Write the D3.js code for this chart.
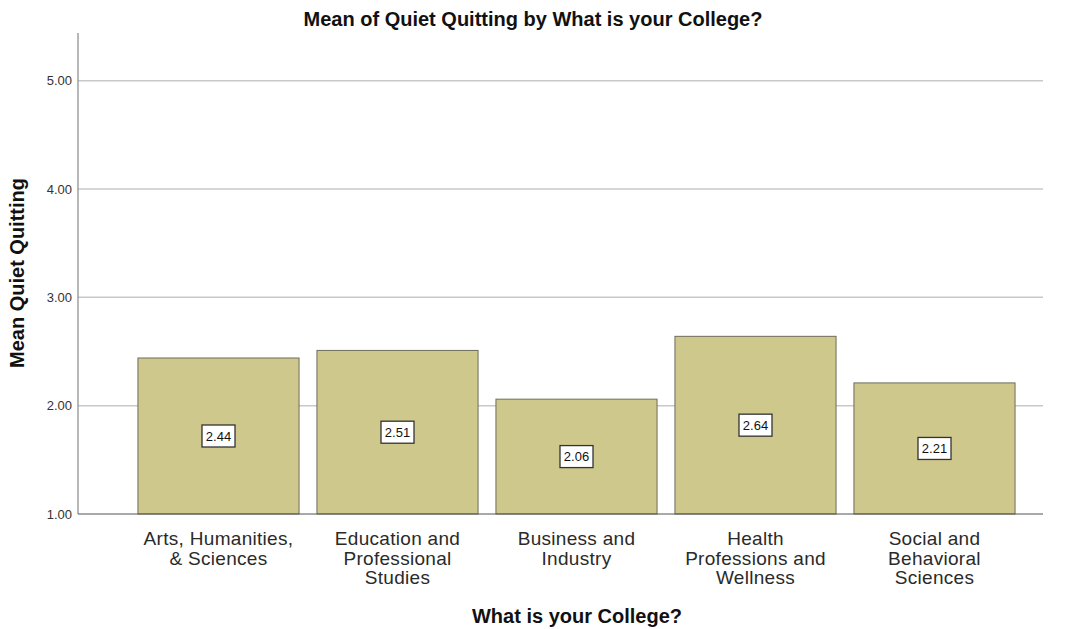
<!DOCTYPE html>
<html>
<head>
<meta charset="utf-8">
<script src="https://cdn.jsdelivr.net/npm/d3@7"></script>
<style>
  html, body { margin: 0; padding: 0; background: #fff; }
  svg { display: block; font-family: Arial, "Liberation Sans", sans-serif; }
</style>
</head>
<body>
<svg id="chart" width="1065" height="629"></svg>
<script>
// Mean Quiet Quitting score per college
const colleges = [
  ["Arts, Humanities,", "& Sciences"],
  ["Education and", "Professional", "Studies"],
  ["Business and", "Industry"],
  ["Health", "Professions and", "Wellness"],
  ["Social and", "Behavioral", "Sciences"]
];
const means = [2.44, 2.51, 2.06, 2.64, 2.21];
const yTicks = [1, 2, 3, 4, 5];

const svg = d3.select("#chart");
const plot = { left: 78, right: 1043, top: 33, bottom: 514 };

const keys = colleges.map(c => c.join(" "));
const x = d3.scaleBand()
  .domain(keys)
  .range([129, 1024])
  .paddingInner(0.1)
  .paddingOuter(0.05);

const y = d3.scaleLinear()
  .domain([1, 5.44])
  .range([plot.bottom, plot.top]);

// grid lines
svg.append("g")
  .selectAll("line")
  .data(yTicks.slice(1))
  .join("line")
  .attr("x1", plot.left).attr("x2", plot.right)
  .attr("y1", d => y(d)).attr("y2", d => y(d))
  .attr("stroke", "#c8c8c8").attr("stroke-width", 1.5);

// y axis
const yAxis = svg.append("g")
  .attr("transform", `translate(${plot.left},0)`)
  .call(d3.axisLeft(y).tickValues(yTicks).tickFormat(d3.format(".2f")).tickSize(0).tickPadding(6));
yAxis.select(".domain").remove();
yAxis.selectAll("text")
  .attr("font-size", 13).attr("fill", "#333")
  .attr("font-family", "Arial, 'Liberation Sans', sans-serif");
svg.append("line")
  .attr("x1", plot.left).attr("x2", plot.left)
  .attr("y1", plot.top).attr("y2", plot.bottom)
  .attr("stroke", "#888").attr("stroke-width", 1.2);

// bars
const data = keys.map((k, i) => ({ key: k, lines: colleges[i], value: means[i] }));
svg.append("g")
  .selectAll("rect")
  .data(data)
  .join("rect")
  .attr("x", d => x(d.key))
  .attr("width", x.bandwidth())
  .attr("y", d => y(d.value))
  .attr("height", d => y(1) - y(d.value))
  .attr("fill", "#cfc88c")
  .attr("stroke", "#6e6c5c")
  .attr("stroke-width", 1);

// x axis baseline
svg.append("line")
  .attr("x1", plot.left).attr("x2", plot.right)
  .attr("y1", plot.bottom).attr("y2", plot.bottom)
  .attr("stroke", "#555").attr("stroke-width", 1.2);

// value labels
const fmt = d3.format(".2f");
const lab = svg.append("g").selectAll("g")
  .data(data)
  .join("g")
  .attr("transform", d => `translate(${x(d.key) + x.bandwidth() / 2},${(y(d.value) + y(1)) / 2})`);
lab.append("rect")
  .attr("x", -16.5).attr("y", -11).attr("width", 33).attr("height", 22)
  .attr("fill", "#fff").attr("stroke", "#333").attr("stroke-width", 1.3);
lab.append("text")
  .attr("text-anchor", "middle").attr("dy", "0.36em")
  .attr("font-size", 13).attr("fill", "#111")
  .text(d => fmt(d.value));

// category labels
const cat = svg.append("g").selectAll("text")
  .data(data)
  .join("text")
  .attr("text-anchor", "middle")
  .attr("font-size", 19)
  .attr("letter-spacing", 0.3)
  .attr("fill", "#2a2a2a")
  .attr("x", d => x(d.key) + x.bandwidth() / 2)
  .attr("y", 545);
cat.selectAll("tspan")
  .data(d => d.lines.map(l => ({ l, cx: x(d.key) + x.bandwidth() / 2 })))
  .join("tspan")
  .attr("x", t => t.cx)
  .attr("dy", (t, i) => i === 0 ? 0 : 19.5)
  .text(t => t.l);

// titles
svg.append("text")
  .attr("x", 533).attr("y", 26)
  .attr("text-anchor", "middle")
  .attr("font-size", 20).attr("font-weight", "bold").attr("fill", "#111")
  .text("Mean of Quiet Quitting by What is your College?");

svg.append("text")
  .attr("x", 577).attr("y", 623)
  .attr("text-anchor", "middle")
  .attr("font-size", 20).attr("font-weight", "bold").attr("fill", "#111")
  .text("What is your College?");

svg.append("text")
  .attr("transform", "translate(24,273) rotate(-90)")
  .attr("text-anchor", "middle")
  .attr("font-size", 20).attr("font-weight", "bold").attr("fill", "#111")
  .text("Mean Quiet Quitting");
</script>
</body>
</html>
